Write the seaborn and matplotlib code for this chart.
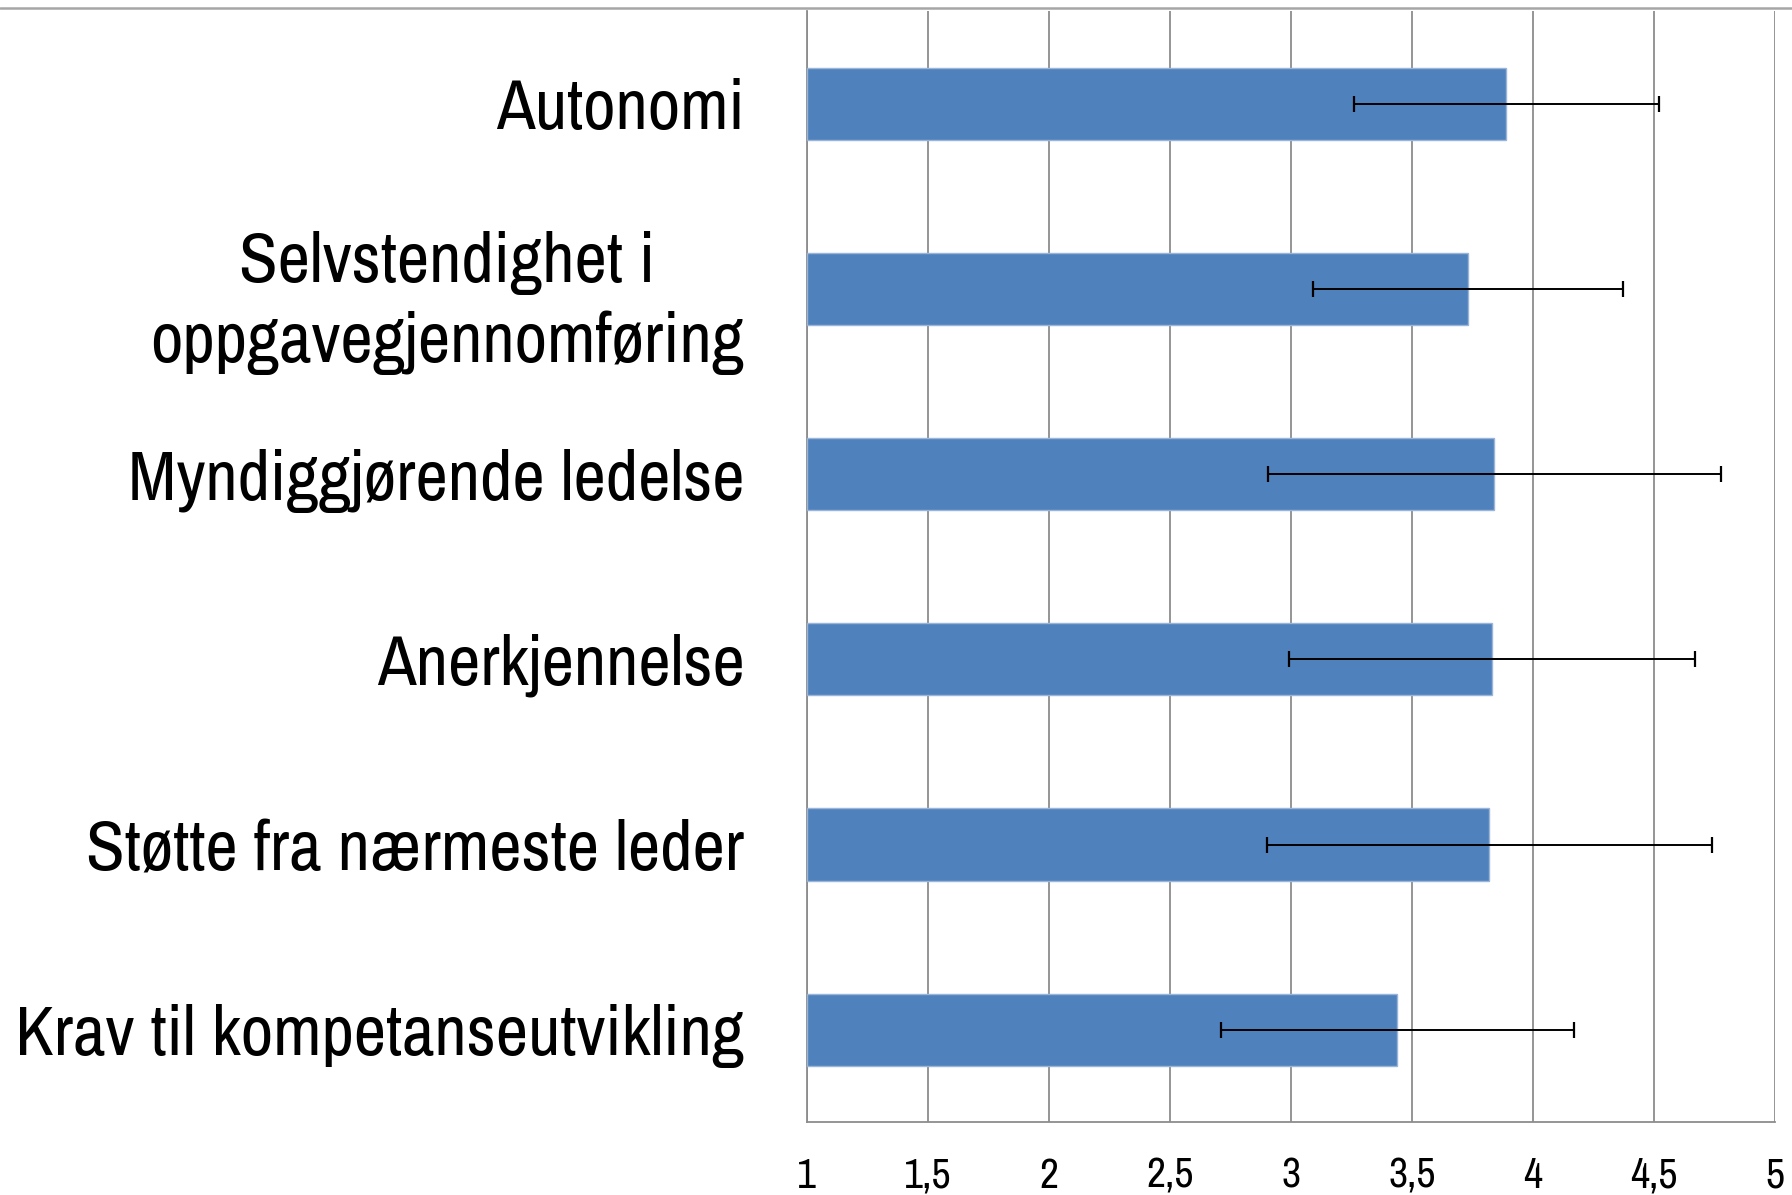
import numpy as np
import pandas as pd
import matplotlib
matplotlib.use('Agg')
import matplotlib.pyplot as plt
from matplotlib.lines import Line2D
import seaborn as sns

# values
categories = ['Autonomi', 'Selvstendighet i\noppgavegjennomføring',
              'Myndiggjørende ledelse', 'Anerkjennelse',
              'Støtte fra nærmeste leder', 'Krav til kompetanseutvikling']
means = [3.89, 3.73, 3.84, 3.83, 3.82, 3.44]
sds = [0.63, 0.64, 0.935, 0.84, 0.92, 0.73]
xticks = [1, 1.5, 2, 2.5, 3, 3.5, 4, 4.5, 5]
xtick_labels = ['1', '1,5', '2', '2,5', '3', '3,5', '4', '4,5', '5']

df = pd.DataFrame({'kategori': categories, 'snitt': means, 'sd': sds})

sns.set_style('white')
plt.rcParams['font.family'] = ['Archivo Narrow', 'Roboto Condensed', 'DejaVu Sans']

fig = plt.figure(figsize=(17.92, 11.95), dpi=100)
ax = fig.add_axes([0.4503, 0.0609, 0.9905 - 0.4503, 0.9905 - 0.0609])

grid_col = '#8c8c8c'
sns.barplot(data=df, x='snitt', y='kategori', orient='h', color='#4f81bd',
            saturation=1, width=0.39, edgecolor='#9bb5d8', linewidth=1,
            ax=ax, zorder=3)
# bars start at 1 on the Excel axis
for p in ax.patches:
    w = p.get_width()
    p.set_x(1)
    p.set_width(w - 1)

ax.errorbar(df['snitt'], np.arange(len(df)), xerr=df['sd'], fmt='none',
            ecolor='black', elinewidth=1.4, capsize=6, capthick=1.6, zorder=4)

ax.set_xlim(1, 5)
ax.set_ylim(len(df) - 0.5, -0.5)
ax.set_xticks(xticks)
ax.set_xticklabels(xtick_labels, fontsize=30, color='black')
ax.set_yticks(range(len(df)))
ax.set_yticklabels(categories, fontsize=51, multialignment='center',
                   color='black', linespacing=1.3)
ax.set_yticks(np.arange(-0.5, len(df), 1), minor=True)
ax.tick_params(axis='y', which='major', length=0, pad=45)
ax.tick_params(axis='y', which='minor', length=15, width=1.3, color=grid_col)
ax.tick_params(axis='x', which='major', length=11, width=1.3, color=grid_col,
               pad=14)
ax.set_xlabel('')
ax.set_ylabel('')

ax.grid(axis='x', color=grid_col, linewidth=1.3, zorder=0)
ax.set_axisbelow(True)
for s in ['top', 'right']:
    ax.spines[s].set_visible(False)
for s in ['left', 'bottom']:
    ax.spines[s].set_color(grid_col)
    ax.spines[s].set_linewidth(1.3)

# thin border line across the top of the image
fig.add_artist(Line2D([0, 1], [0.9935, 0.9935], transform=fig.transFigure,
                      color='#a6a6a6', linewidth=1.8))

fig.savefig('out.png', dpi=100)
